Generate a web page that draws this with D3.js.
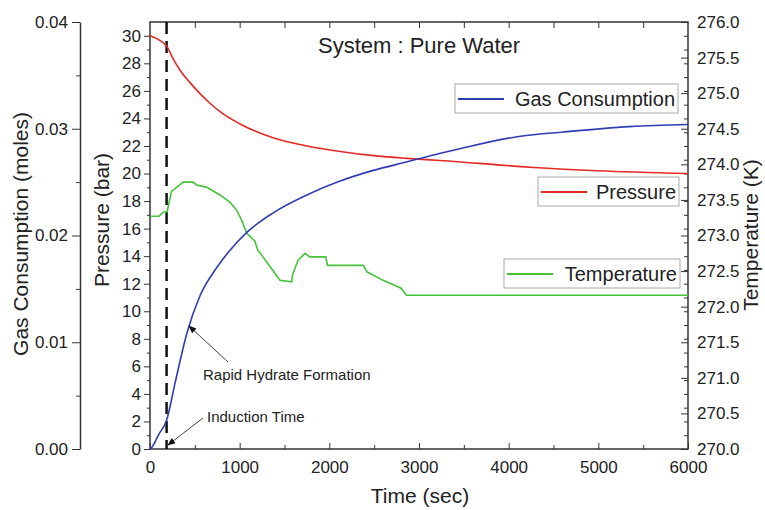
<!DOCTYPE html>
<html>
<head>
<meta charset="utf-8">
<script src="https://cdn.jsdelivr.net/npm/d3@7"></script>
<style>
  body { margin: 0; background: #fff; }
  svg text { font-family: "Liberation Sans", Arial, sans-serif; fill: #222; }
  .axis path, .axis line { stroke: #333; }
</style>
</head>
<body>
<svg width="765" height="510"></svg>
<script>
// time (s) vs pressure (bar)
var presTime = [0, 100, 190, 260, 335, 446, 558, 669, 800, 1004, 1372, 1750, 2120, 2490, 2866, 3234, 4238, 4985, 6000];
var presVal  = [30, 29.7, 29.2, 28.3, 27.5, 26.6, 25.8, 25.1, 24.4, 23.6, 22.6, 22.0, 21.6, 21.3, 21.1, 20.95, 20.46, 20.2, 20.0];

// time (s) vs gas consumption (moles)
var gasTime = [0, 15, 100, 185, 280, 410, 560, 745, 890, 1080, 1370, 1750, 2120, 2490, 2870, 3240, 3490, 4130, 4610, 5350, 6000];
var gasVal  = [0, 0.0001, 0.0014, 0.0027, 0.0062, 0.0108, 0.0144, 0.0170, 0.0186, 0.0203, 0.0221, 0.0238, 0.0251, 0.0261, 0.0269, 0.0277, 0.0282, 0.0293, 0.0297, 0.0302, 0.0304];

// time (s) vs temperature (K)
var tempTime = [0, 100, 150, 190, 240, 300, 370, 480, 520, 630, 780, 890, 965, 1020, 1080, 1170, 1200, 1260, 1340, 1450, 1580, 1590, 1650, 1730, 1780, 1960, 1980, 2380, 2420, 2600, 2800, 2860, 6000];
var tempVal  = [273.27, 273.27, 273.33, 273.33, 273.62, 273.68, 273.75, 273.75, 273.71, 273.68, 273.57, 273.47, 273.36, 273.22, 273.03, 272.92, 272.8, 272.7, 272.56, 272.37, 272.35, 272.45, 272.65, 272.75, 272.7, 272.7, 272.58, 272.58, 272.49, 272.37, 272.26, 272.16, 272.16];

var inductionTime = 185;

var svg = d3.select("svg");
var pLeft = 150, pRight = 688, pTop = 22, pBottom = 449;

var x = d3.scaleLinear().domain([0, 6000]).range([pLeft, pRight]);
var yP = d3.scaleLinear().domain([0, 31]).range([pBottom, pTop]);
var yG = d3.scaleLinear().domain([0, 0.04]).range([pBottom, pTop]);
var yT = d3.scaleLinear().domain([270, 276]).range([pBottom, pTop]);

var blue = "#2f3db3", red = "#e42a24", green = "#46c23a";
var tickFont = 17, titleFont = 21;

// markers
svg.append("defs").append("marker")
  .attr("id", "arrow")
  .attr("viewBox", "0 0 10 10")
  .attr("refX", 9).attr("refY", 5)
  .attr("markerWidth", 8).attr("markerHeight", 8)
  .attr("orient", "auto")
  .append("path")
  .attr("d", "M0,1 L10,5 L0,9 Z")
  .attr("fill", "#111");

// frame
svg.append("rect")
  .attr("x", pLeft).attr("y", pTop)
  .attr("width", pRight - pLeft).attr("height", pBottom - pTop)
  .attr("fill", "none").attr("stroke", "#333").attr("stroke-width", 1.5);

// x axes (bottom, inward ticks)
svg.append("g").attr("class", "axis")
  .attr("transform", "translate(0," + pBottom + ")")
  .call(d3.axisBottom(x).tickValues(d3.range(0, 6001, 1000)).tickFormat(d3.format("d")).tickSizeInner(-6).tickSizeOuter(0).tickPadding(12))
  .call(function(g) { g.select(".domain").remove(); })
  .call(function(g) { g.selectAll("text").attr("font-size", tickFont).attr("fill", "#222"); });
svg.append("g").attr("class", "axis")
  .attr("transform", "translate(0," + pBottom + ")")
  .call(d3.axisBottom(x).tickValues(d3.range(500, 6000, 1000)).tickSize(-4).tickFormat(""))
  .call(function(g) { g.select(".domain").remove(); });
// top ticks
svg.append("g").attr("class", "axis")
  .attr("transform", "translate(0," + pTop + ")")
  .call(d3.axisTop(x).tickValues(d3.range(500, 6000, 500)).tickSize(-6).tickFormat(""))
  .call(function(g) { g.select(".domain").remove(); });

// pressure axis (left of frame)
svg.append("g").attr("class", "axis")
  .attr("transform", "translate(" + pLeft + ",0)")
  .call(d3.axisLeft(yP).tickValues(d3.range(0, 31, 2)).tickSize(6).tickPadding(3))
  .call(function(g) { g.select(".domain").remove(); })
  .call(function(g) { g.selectAll("text").attr("font-size", tickFont).attr("fill", "#222"); });
svg.append("g").attr("class", "axis")
  .attr("transform", "translate(" + pLeft + ",0)")
  .call(d3.axisLeft(yP).tickValues(d3.range(1, 31, 2)).tickSize(3).tickFormat(""))
  .call(function(g) { g.select(".domain").remove(); });

// gas consumption axis (offset)
var gasX = 80;
svg.append("g").attr("class", "axis")
  .attr("transform", "translate(" + gasX + ",0)")
  .call(d3.axisLeft(yG).tickValues([0, 0.01, 0.02, 0.03, 0.04]).tickFormat(d3.format(".2f")).tickSizeInner(8).tickSizeOuter(0).tickPadding(4))
  .call(function(g) { g.select(".domain").attr("stroke-width", 1.5); })
  .call(function(g) { g.selectAll("text").attr("font-size", tickFont).attr("fill", "#222"); });
svg.append("g").attr("class", "axis")
  .attr("transform", "translate(" + gasX + ",0)")
  .call(d3.axisLeft(yG).tickValues([0.005, 0.015, 0.025, 0.035]).tickSize(4).tickFormat(""))
  .call(function(g) { g.select(".domain").remove(); });

// temperature axis (right of frame, inward ticks)
svg.append("g").attr("class", "axis")
  .attr("transform", "translate(" + pRight + ",0)")
  .call(d3.axisRight(yT).tickValues(d3.range(270, 276.01, 0.5)).tickFormat(d3.format(".1f")).tickSizeInner(-7).tickSizeOuter(0).tickPadding(9))
  .call(function(g) { g.select(".domain").remove(); })
  .call(function(g) { g.selectAll("text").attr("font-size", tickFont).attr("fill", "#222"); });
svg.append("g").attr("class", "axis")
  .attr("transform", "translate(" + pRight + ",0)")
  .call(d3.axisRight(yP).tickValues(d3.range(1, 31, 1)).tickSize(-4).tickFormat(""))
  .call(function(g) { g.select(".domain").remove(); });

// axis titles
svg.append("text").attr("transform", "translate(28,234) rotate(-90)")
  .attr("text-anchor", "middle").attr("font-size", titleFont).text("Gas Consumption (moles)");
svg.append("text").attr("transform", "translate(109,220) rotate(-90)")
  .attr("text-anchor", "middle").attr("font-size", titleFont).text("Pressure (bar)");
svg.append("text").attr("transform", "translate(758,235) rotate(-90)")
  .attr("text-anchor", "middle").attr("font-size", titleFont).text("Temperature (K)");
svg.append("text").attr("x", 420).attr("y", 503)
  .attr("text-anchor", "middle").attr("font-size", titleFont).text("Time (sec)");

// induction dashed line
svg.append("line")
  .attr("x1", x(inductionTime)).attr("x2", x(inductionTime))
  .attr("y1", pTop).attr("y2", pBottom)
  .attr("stroke", "#111").attr("stroke-width", 2.5).attr("stroke-dasharray", "12,7");

// series
function series(tArr, vArr, yScale, color, curve) {
  var pts = tArr.map(function(t, i) { return [t, vArr[i]]; });
  svg.append("path")
    .datum(pts)
    .attr("fill", "none")
    .attr("stroke", color)
    .attr("stroke-width", 1.6)
    .attr("d", d3.line().curve(curve)
      .x(function(d) { return x(d[0]); })
      .y(function(d) { return yScale(d[1]); }));
}
series(tempTime, tempVal, yT, green, d3.curveLinear);
series(presTime, presVal, yP, red, d3.curveMonotoneX);
series(gasTime, gasVal, yG, blue, d3.curveMonotoneX);

// title
svg.append("text").attr("x", 318).attr("y", 53).attr("font-size", 22).text("System : Pure Water");

// legends
var legends = [
  { name: "Gas Consumption", color: blue, x: 455, y: 84, w: 223 },
  { name: "Pressure", color: red, x: 538, y: 177, w: 141 },
  { name: "Temperature", color: green, x: 504, y: 259, w: 176 }
];
legends.forEach(function(l) {
  var g = svg.append("g").attr("transform", "translate(" + l.x + "," + l.y + ")");
  g.append("rect").attr("width", l.w).attr("height", 29)
    .attr("fill", "#fff").attr("stroke", "#aaa").attr("stroke-width", 1);
  g.append("line").attr("x1", 3).attr("x2", 49).attr("y1", 15).attr("y2", 15)
    .attr("stroke", l.color).attr("stroke-width", 1.8);
  g.append("text").attr("x", l.w - 3).attr("y", 22).attr("text-anchor", "end")
    .attr("font-size", 20).text(l.name);
});

// annotations
svg.append("line").attr("x1", 228).attr("y1", 362).attr("x2", 189).attr("y2", 326)
  .attr("stroke", "#444").attr("stroke-width", 1).attr("marker-end", "url(#arrow)");
svg.append("text").attr("x", 203).attr("y", 380).attr("font-size", 15).text("Rapid Hydrate Formation");
svg.append("line").attr("x1", 203).attr("y1", 418).attr("x2", 168).attr("y2", 445)
  .attr("stroke", "#444").attr("stroke-width", 1).attr("marker-end", "url(#arrow)");
svg.append("text").attr("x", 207).attr("y", 422).attr("font-size", 15).text("Induction Time");
</script>
</body>
</html>
